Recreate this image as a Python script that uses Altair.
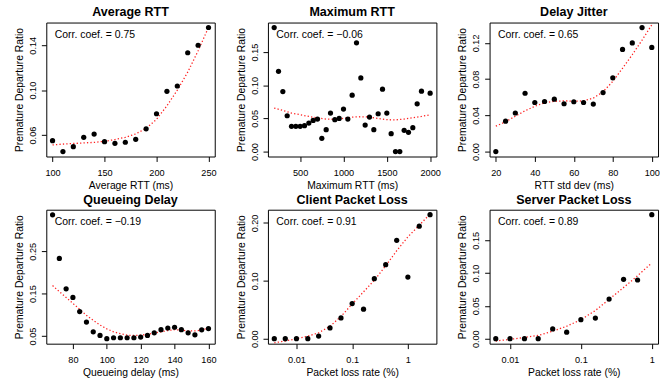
import altair as alt
import pandas as pd

FONT = "Liberation Sans"

# ---------------- data ----------------
titles = ["Average RTT", "Maximum RTT", "Delay Jitter",
          "Queueing Delay", "Client Packet Loss", "Server Packet Loss"]
x_titles = ["Average RTT (ms)", "Maximum RTT (ms)", "RTT std dev (ms)",
            "Queueing delay (ms)", "Packet loss rate (%)", "Packet loss rate (%)"]
corr_labels = ["Corr. coef. = 0.75", "Corr. coef. = \u22120.06", "Corr. coef. = 0.65",
               "Corr. coef. = \u22120.19", "Corr. coef. = 0.91", "Corr. coef. = 0.89"]

avg_x = [100, 110, 120, 130, 140, 150, 160, 170, 180, 190, 200, 210, 220, 230, 240, 250]
avg_y = [0.055, 0.0453, 0.0497, 0.058, 0.0609, 0.0541, 0.0527, 0.0536, 0.0562, 0.0656,
         0.079, 0.099, 0.1037, 0.1333, 0.140, 0.1558]
avg_fit = [0.0512, 0.052, 0.0525, 0.053, 0.0535, 0.0545, 0.056, 0.058, 0.061, 0.066,
           0.074, 0.086, 0.100, 0.116, 0.135, 0.156]

max_x = [200, 250, 300, 350, 400, 450, 500, 550, 600, 650, 700, 750, 800, 850, 900, 950,
         1000, 1050, 1100, 1150, 1200, 1250, 1300, 1350, 1400, 1450, 1500, 1550, 1600,
         1650, 1700, 1750, 1800, 1850, 1900, 2000]
max_y = [0.187, 0.121, 0.0905, 0.054, 0.038, 0.038, 0.038, 0.039, 0.043, 0.047, 0.049,
         0.020, 0.033, 0.058, 0.048, 0.050, 0.064, 0.049, 0.085, 0.164, 0.111, 0.040,
         0.052, 0.033, 0.057, 0.094, 0.058, 0.027, 0.0, 0.0, 0.032, 0.029, 0.036, 0.072,
         0.091, 0.088]
max_fit_x = [200, 300, 400, 500, 600, 700, 800, 900, 1000, 1100, 1200, 1300, 1400, 1500,
             1600, 1700, 1800, 1900, 2000]
max_fit = [0.0656, 0.062, 0.058, 0.0555, 0.053, 0.0505, 0.049, 0.0485, 0.050, 0.052,
           0.0525, 0.052, 0.050, 0.048, 0.0478, 0.049, 0.051, 0.053, 0.0555]

jit_x = [20, 25, 30, 35, 40, 45, 50, 55, 60, 65, 70, 75, 80, 85, 90, 95, 100]
jit_y = [0.0, 0.0335, 0.0426, 0.0644, 0.0542, 0.0553, 0.0579, 0.0528, 0.055, 0.0542,
         0.0524, 0.0652, 0.0815, 0.1128, 0.120, 0.137, 0.115]
jit_fit = [0.028, 0.033, 0.039, 0.045, 0.050, 0.054, 0.0555, 0.056, 0.0555, 0.056,
           0.059, 0.066, 0.0775, 0.092, 0.107, 0.123, 0.140]

q_x = [68, 72, 76, 80, 84, 88, 92, 96, 100, 104, 108, 112, 116, 120, 124, 128, 132, 136,
       140, 144, 148, 152, 156, 160]
q_y = [0.336, 0.233, 0.1615, 0.141, 0.1077, 0.083, 0.060, 0.0515, 0.0438, 0.046, 0.046,
       0.046, 0.046, 0.0477, 0.0515, 0.0577, 0.065, 0.069, 0.0708, 0.065, 0.0577, 0.053,
       0.0646, 0.0677]
q_fit = [0.169, 0.155, 0.141, 0.127, 0.113, 0.099, 0.087, 0.076, 0.067, 0.060, 0.0555,
         0.052, 0.0515, 0.052, 0.054, 0.057, 0.060, 0.063, 0.065, 0.064, 0.062, 0.062,
         0.064, 0.069]

cl_x = [0.004, 0.0063, 0.01, 0.016, 0.025, 0.04, 0.063, 0.1, 0.16, 0.25, 0.4, 0.63, 1.0,
        1.6, 2.5]
cl_y = [0.0, 0.0, 0.0, 0.0, 0.0045, 0.0187, 0.036, 0.0607, 0.051, 0.1038, 0.128, 0.170,
        0.1066, 0.1945, 0.2143]
cl_fit = [-0.007, -0.004, 0.0, 0.0045, 0.0102, 0.0215, 0.0385, 0.060, 0.081, 0.101,
          0.126, 0.152, 0.176, 0.196, 0.2155]

sl_x = [0.0063, 0.01, 0.016, 0.025, 0.04, 0.063, 0.1, 0.16, 0.25, 0.4, 0.63, 1.0]
sl_y = [0.0, 0.0, 0.0, 0.0, 0.015, 0.010, 0.029, 0.0315, 0.0605, 0.0905, 0.0895, 0.189]
sl_fit = [-0.0035, -0.001, 0.002, 0.005, 0.0115, 0.019, 0.029, 0.043, 0.060, 0.078,
          0.096, 0.1155]

# axis ticks
x_ticks = [[100, 150, 200, 250], [500, 1000, 1500, 2000], [20, 40, 60, 80, 100],
           [80, 100, 120, 140, 160], [0.01, 0.1, 1], [0.01, 0.1, 1]]
y_ticks = [[0.06, 0.08, 0.10, 0.12, 0.14], [0.0, 0.05, 0.10, 0.15],
           [0.0, 0.02, 0.04, 0.06, 0.08, 0.10, 0.12],
           [0.05, 0.10, 0.15, 0.20, 0.25, 0.30], [0.0, 0.05, 0.10, 0.15, 0.20],
           [0.0, 0.05, 0.10, 0.15]]
y_label_expr = [
    "(round(datum.value*100) % 4 == 2) ? format(datum.value, '.2f') : ''",
    "format(datum.value, '.2f')",
    "(round(datum.value*100) % 4 == 0) ? format(datum.value, '.2f') : ''",
    "(round(datum.value*100) % 10 == 5) ? format(datum.value, '.2f') : ''",
    "format(datum.value, '.2f')",
    "format(datum.value, '.2f')",
]
x_formats = ["d", "d", "d", "d", "~g", "~g"]
x_domains = [[94, 256], [128, 2072], [16.8, 103.2], [64.3, 163.7],
             [0.003076, 3.25], [0.005152, 1.2246]]
y_domains = [[0.0409, 0.1602], [-0.0075, 0.1945], [-0.0055, 0.1425], [0.032, 0.348],
             [-0.0086, 0.2229], [-0.00756, 0.1966]]
x_log = [False, False, False, False, True, True]

points = [(avg_x, avg_y), (max_x, max_y), (jit_x, jit_y), (q_x, q_y),
          (cl_x, cl_y), (sl_x, sl_y)]
fits = [(avg_x, avg_fit), (max_fit_x, max_fit), (jit_x, jit_fit), (q_x, q_fit),
        (cl_x, cl_fit), (sl_x, sl_fit)]

W, H = 171, 136


def panel(i):
    px, py = points[i]
    fx, fy = fits[i]
    pdf = pd.DataFrame({"x": px, "y": py})
    fdf = pd.DataFrame({"x": fx, "y": fy})
    xscale = alt.Scale(domain=x_domains[i], nice=False, zero=False,
                       type="log" if x_log[i] else "linear")
    yscale = alt.Scale(domain=y_domains[i], nice=False, zero=False)
    xaxis = alt.Axis(values=x_ticks[i], format=x_formats[i], title=x_titles[i],
                     labelFlush=False, labelOverlap=False)
    yaxis = alt.Axis(values=y_ticks[i], labelExpr=y_label_expr[i],
                     title="Premature Departure Ratio", labelAngle=270,
                     labelAlign="center", labelBaseline="bottom",
                     labelFlush=False, labelOverlap=False)
    pts = alt.Chart(pdf).mark_circle(size=28, color="black", opacity=1).encode(
        x=alt.X("x:Q", scale=xscale, axis=xaxis),
        y=alt.Y("y:Q", scale=yscale, axis=yaxis),
    )
    line = alt.Chart(fdf).mark_line(color="#ff2020", strokeDash=[1.3, 2.2],
                                    strokeWidth=1.3, clip=True).encode(
        x=alt.X("x:Q", scale=xscale),
        y=alt.Y("y:Q", scale=yscale),
    )
    txt = alt.Chart(pdf).mark_text(text=corr_labels[i], align="left", baseline="middle",
                                   font=FONT, fontSize=10.6, color="black").encode(
        x=alt.value(8.5), y=alt.value(12.5)
    ).transform_filter("datum.x == " + str(px[0]))
    return alt.layer(line, pts, txt).properties(
        width=W, height=H,
        title=alt.TitleParams(titles[i], fontSize=12.7, fontWeight="bold", font=FONT,
                              color="black", anchor="middle", offset=3.5),
    )


chart = alt.concat(*[panel(i) for i in range(6)], columns=3,
                   spacing=54, bounds="flush").properties(
    padding={"left": 14, "top": 3, "right": 0, "bottom": 0}
).configure_axis(
    labelFont=FONT, labelFontSize=9.3, labelColor="black",
    titleFont=FONT, titleFontSize=10.5, titleFontWeight="normal", titleColor="black",
    tickColor="black", tickSize=5, tickWidth=1, domain=False, grid=False,
    labelPadding=6,
).configure_axisX(titlePadding=3, labelPadding=7).configure_axisY(
    titlePadding=4, labelPadding=4
).configure_view(stroke="black", strokeWidth=1)

chart.save("out.html", embed_options={"renderer": "svg", "actions": False})
